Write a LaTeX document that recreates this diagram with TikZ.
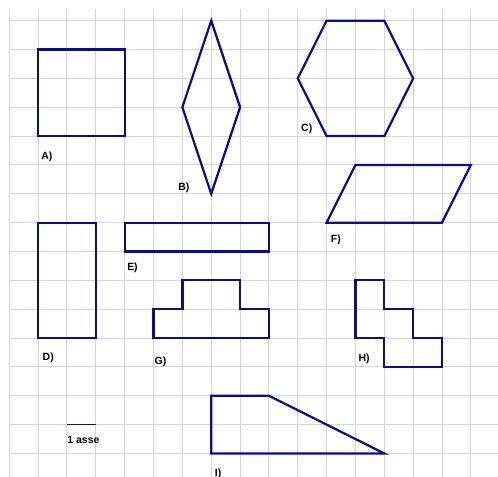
\documentclass[tikz,border=0pt]{standalone}
\usepackage{fontspec}
\setmainfont{Liberation Sans}
\definecolor{figblue}{RGB}{12,12,140}
\definecolor{gridgray}{RGB}{212,212,212}
\begin{document}
\begin{tikzpicture}[font=\bfseries\fontsize{10.3}{11}\selectfont,
		fig/.style={draw=figblue,line width=2.2pt},
		lab/.style={inner sep=0pt}]
		\useasboundingbox (-0.322,0.7175) rectangle (16.94,-15.816);
		% squared paper
		\foreach \k in {0,...,16}
		\draw[gridgray,line width=1pt] (\k,0.395)--(\k,-15.816);
		\foreach \j in {0,...,15}
		\draw[gridgray,line width=1pt] (0,-\j)--(16.94,-\j);
		% figures
		\draw[fig] (1,-1) rectangle (4,-4);
		\draw[fig] (7,0)--(8,-3)--(7,-6)--(6,-3)--cycle;
		\draw[fig] (11,0)--(13,0)--(14,-2)--(13,-4)--(11,-4)--(10,-2)--cycle;
		\draw[fig] (12,-5)--(16,-5)--(15,-7)--(11,-7)--cycle;
		\draw[fig] (1,-7) rectangle (3,-11);
		\draw[fig] (4,-7) rectangle (9,-8);
		\draw[fig] (5,-10)--(6,-10)--(6,-9)--(8,-9)--(8,-10)--(9,-10)--(9,-11)--(5,-11)--cycle;
		\draw[fig] (12,-9)--(13,-9)--(13,-10)--(14,-10)--(14,-11)--(15,-11)--(15,-12)--(13,-12)--(13,-11)--(12,-11)--cycle;
		\draw[fig] (7,-13)--(9,-13)--(13,-15)--(7,-15)--cycle;
		% unit
		\draw[draw=figblue,line width=1.6pt] (2,-14)--(3,-14);
		\node[lab] (unit) at (2.57,-14.53) {1 asse};
		% letters
		\node[lab] (labA) at (1.30,-4.71) {A)};
		\node[lab] (labB) at (6.05,-5.78) {B)};
		\node[lab] (labC) at (10.31,-3.73) {C)};
		\node[lab] (labD) at (1.35,-11.70) {D)};
		\node[lab] (labE) at (4.27,-8.58) {E)};
		\node[lab] (labF) at (11.32,-7.60) {F)};
		\node[lab] (labG) at (5.24,-11.81) {G)};
		\node[lab] (labH) at (12.30,-11.71) {H)};
		\node[lab] (labI) at (7.24,-15.72) {I)};
\end{tikzpicture}
\end{document}
